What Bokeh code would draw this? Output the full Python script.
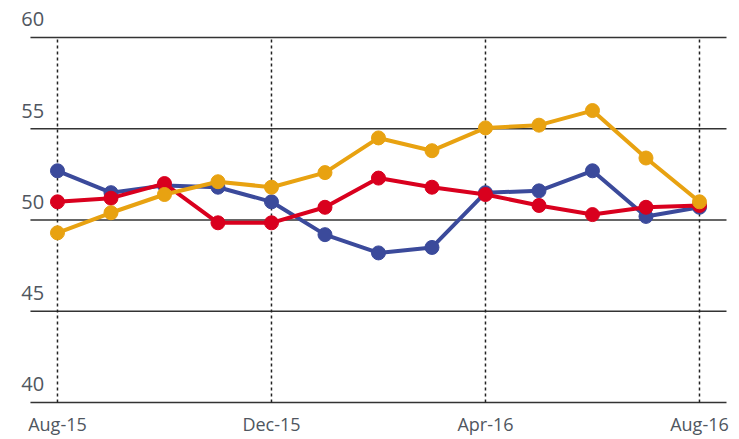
from bokeh.plotting import figure
from bokeh.models import Range1d, FixedTicker, ColumnDataSource
from bokeh.core.properties import value
from bokeh.embed import file_html
from bokeh.resources import INLINE

months = ["Aug-15", "Sep-15", "Oct-15", "Nov-15", "Dec-15", "Jan-16", "Feb-16",
          "Mar-16", "Apr-16", "May-16", "Jun-16", "Jul-16", "Aug-16"]
blue = [52.7, 51.5, 51.9, 51.8, 51.0, 49.2, 48.2, 48.5, 51.5, 51.6, 52.7, 50.2, 50.7]
red = [51.0, 51.2, 52.0, 49.85, 49.85, 50.7, 52.3, 51.8, 51.4, 50.8, 50.3, 50.7, 50.8]
yellow = [49.3, 50.4, 51.4, 52.1, 51.8, 52.6, 54.5, 53.8, 55.05, 55.2, 56.0, 53.4, 51.0]
y_ticks = [40, 45, 50, 55, 60]
x_tick_idx = [0, 4, 8, 12]

xs = list(range(len(months)))
FONT = "Open Sans"
LABEL_COLOR = "#4f5660"

p = figure(width=739, height=439, output_backend="svg", toolbar_location=None,
           x_range=Range1d(-1.065, 12.748), y_range=Range1d(39.84, 62.03),
           y_axis_location=None, min_border_left=0, min_border_right=0,
           min_border_top=0, min_border_bottom=34)
p.grid.visible = False
p.outline_line_color = None
p.background_fill_color = "white"
p.border_fill_color = "white"

# horizontal gridlines
p.segment(x0=[-0.505] * len(y_ticks), x1=[12.505] * len(y_ticks), y0=y_ticks, y1=y_ticks,
          line_color="#333333", line_width=1.5)
# vertical dotted lines
p.segment(x0=x_tick_idx, x1=x_tick_idx, y0=[y_ticks[0]] * 4, y1=[y_ticks[-1]] * 4,
          line_color="#222222", line_width=1.5, line_dash="3 3")

# y labels sitting above their gridlines
p.text(x=[-0.25] * len(y_ticks), y=[t + 1.0 for t in y_ticks], text=[str(t) for t in y_ticks],
       text_align="right", text_baseline="alphabetic",
       text_font=value(FONT), text_font_size="20px", text_color=LABEL_COLOR)

for ys, col in [(blue, "#3b4a9b"), (red, "#d9001e"), (yellow, "#e8a211")]:
    src = ColumnDataSource(dict(x=xs, y=ys))
    p.line("x", "y", source=src, line_color=col, line_width=4)
    p.scatter("x", "y", source=src, size=14, fill_color=col, line_color=col)

ax = p.xaxis[0]
ax.ticker = FixedTicker(ticks=x_tick_idx)
ax.major_label_overrides = {i: months[i] for i in x_tick_idx}
ax.axis_line_color = None
ax.major_tick_line_color = None
ax.minor_tick_line_color = None
ax.major_tick_in = 0
ax.major_tick_out = 0
ax.major_label_standoff = 6
ax.major_label_text_font = FONT
ax.major_label_text_font_size = "18px"
ax.major_label_text_color = LABEL_COLOR

open("out.html", "w").write(file_html(p, INLINE))
